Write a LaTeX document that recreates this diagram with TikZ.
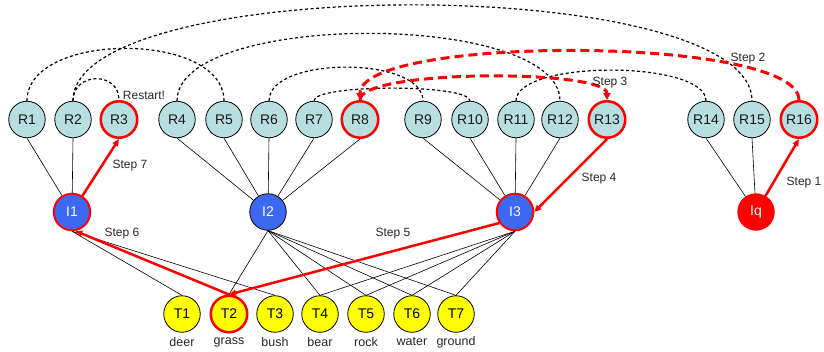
\documentclass[tikz,border=0pt]{standalone}
\usepackage{fontspec}
\setmainfont{Liberation Sans}
\usetikzlibrary{arrows.meta}
\definecolor{rfill}{RGB}{183,223,224}
\definecolor{ifill}{RGB}{60,105,240}
\definecolor{tfill}{RGB}{255,255,0}
\definecolor{hred}{RGB}{255,0,0}
\begin{document}
\begin{tikzpicture}[x=1pt,y=-1pt,
  base/.style={circle,draw=black,line width=0.8pt,minimum size=36.5pt,inner sep=0pt,font=\fontsize{14}{14}\selectfont},
  rnode/.style={base,fill=rfill,text=black!90},
  inode/.style={base,fill=ifill,text=white},
  tnode/.style={base,fill=tfill,text=black},
  hl/.style={draw=hred,line width=2.5pt},
  edge/.style={draw=black,line width=0.6pt},
  arcd/.style={draw=black,line width=1.2pt,dash pattern=on 3pt off 2.5pt},
  redarc/.style={draw=hred,line width=3pt,dash pattern=on 9pt off 5pt,-{Triangle[length=7pt,width=7pt]}},
  redarrow/.style={draw=hred,line width=2.5pt,-{Triangle[length=7pt,width=6pt]}},
  lbl/.style={font=\fontsize{12}{12}\selectfont,text=black!85,inner sep=0pt},
  tlbl/.style={font=\fontsize{12.5}{12.5}\selectfont,text=black!85,inner sep=0pt}
]
\useasboundingbox (0,0) rectangle (824,351);
% R row
\node[rnode] (R1) at (27,119.5) {R1};
\node[rnode] (R2) at (73,119.5) {R2};
\node[rnode,hl] (R3) at (119,119.5) {R3};
\node[rnode] (R4) at (177,119.5) {R4};
\node[rnode] (R5) at (224,119.5) {R5};
\node[rnode] (R6) at (269,119.5) {R6};
\node[rnode] (R7) at (314,119.5) {R7};
\node[rnode,hl] (R8) at (360,119.5) {R8};
\node[rnode] (R9) at (423,119.5) {R9};
\node[rnode] (R10) at (470,119.5) {R10};
\node[rnode] (R11) at (516,119.5) {R11};
\node[rnode] (R12) at (560,119.5) {R12};
\node[rnode,hl] (R13) at (607,119.5) {R13};
\node[rnode] (R14) at (706,119.5) {R14};
\node[rnode] (R15) at (752,119.5) {R15};
\node[rnode,hl] (R16) at (799,119.5) {R16};
% I row
\node[inode,draw=hred,line width=2pt] (I1) at (72,212) {I1};
\node[inode] (I2) at (268,212) {I2};
\node[inode,draw=hred,line width=2pt] (I3) at (515,212) {I3};
\node[inode,draw=hred,fill=hred] (Iq) at (756,212) {Iq};
% T row
\node[tnode] (T1) at (182,314) {T1};
\node[tnode,hl] (T2) at (229,314) {T2};
\node[tnode] (T3) at (275,314) {T3};
\node[tnode] (T4) at (320,314) {T4};
\node[tnode] (T5) at (366,314) {T5};
\node[tnode] (T6) at (412,314) {T6};
\node[tnode] (T7) at (456,314) {T7};
\node[tlbl] (L1) at (182,342) {deer};
\node[tlbl] (L2) at (229,342) {grass};
\node[tlbl] (L3) at (275,342) {bush};
\node[tlbl] (L4) at (320,342) {bear};
\node[tlbl] (L5) at (366,342) {rock};
\node[tlbl] (L6) at (412,342) {water};
\node[tlbl] (L7) at (456,342) {ground};
% R to I edges
\foreach \r in {R1,R2} \draw[edge] (\r.south) -- (I1);
\foreach \r in {R4,R5,R6,R7,R8} \draw[edge] (\r.south) -- (I2);
\foreach \r in {R9,R10,R11,R12} \draw[edge] (\r.south) -- (I3);
\foreach \r in {R14,R15} \draw[edge] (\r.south) -- (Iq);
% I to T edges
\foreach \t in {T1,T3} \draw[edge] (I1.south) -- (\t.north);
\foreach \t in {T2,T4,T5,T6,T7} \draw[edge] (I2.south) -- (\t.north);
\foreach \t in {T4,T5,T6,T7} \draw[edge] (I3.south) -- (\t.north);
% dashed arcs
\draw[arcd] (R1.north) .. controls +(0,-70) and +(0,-70) .. (R5.north);
\draw[arcd] (R2.north) .. controls +(0,-128) and +(0,-128) .. (R15.north);
\draw[arcd] (R2.north) .. controls +(0,-29) and +(0,-29) .. (R3.north);
\draw[arcd] (R4.north) .. controls +(0,-90) and +(0,-90) .. (R12.north);
\draw[arcd] (R6.north) .. controls +(0,-45) and +(0,-45) .. (R9.north);
\draw[arcd] (R7.north) .. controls +(0,-17) and +(0,-17) .. (R10.north);
\draw[arcd] (R11.north) .. controls +(0,-41) and +(0,-41) .. (R14.north);
% red dashed arrows
\draw[redarc] (R16.north) .. controls +(0,-65) and +(0,-65) .. (R8.north);
\draw[redarc] (R8.north) .. controls +(0,-31) and +(0,-31) .. (R13.north);
% red solid arrows
\draw[redarrow] (Iq) -- (R16.south);
\draw[redarrow] (R13.south) -- (I3.east);
\draw[redarrow] (I3.215) -- (T2.north);
\draw[redarrow] (T2.north) -- (I1.-80);
\draw[redarrow] (I1) -- (R3.south);
% labels
\node[lbl] (S1) at (804,183) {Step 1};
\node[lbl] (S2) at (748,59) {Step 2};
\node[lbl] (S3) at (610,83) {Step 3};
\node[lbl] (S4) at (599,179) {Step 4};
\node[lbl] (S5) at (393,234) {Step 5};
\node[lbl] (S6) at (122,234) {Step 6};
\node[lbl] (S7) at (130,166) {Step 7};
\node[lbl] (RS) at (144,95) {Restart!};
\end{tikzpicture}
\end{document}
